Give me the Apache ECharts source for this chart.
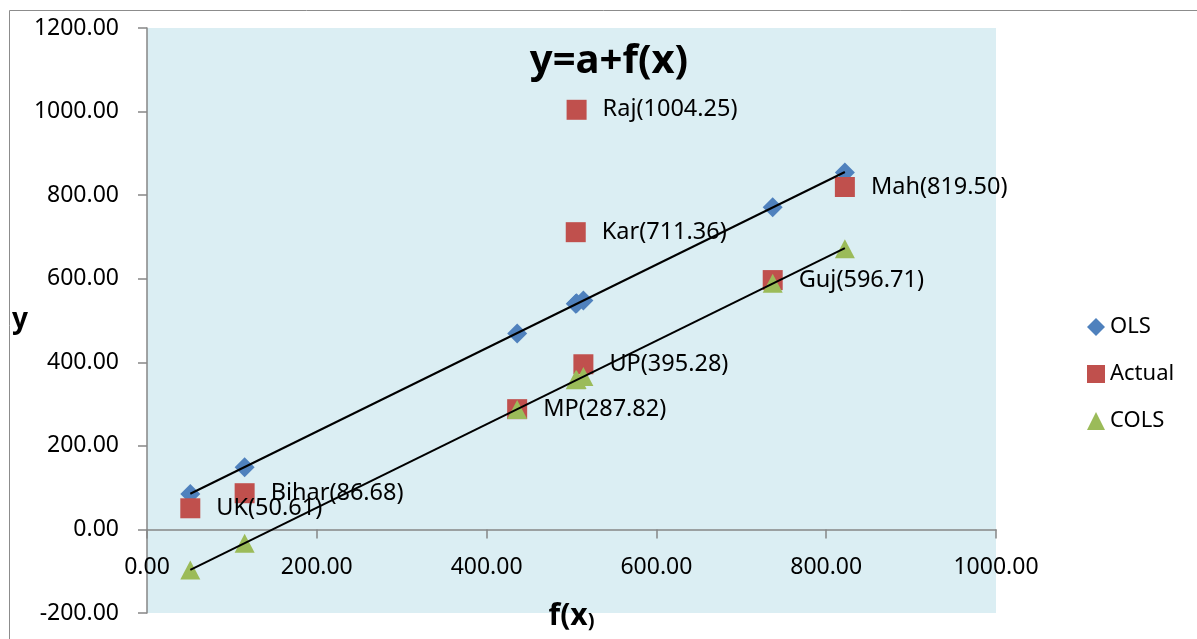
<!DOCTYPE html>
<html>
<head>
<meta charset="utf-8">
<script src="https://cdn.jsdelivr.net/npm/echarts@6/dist/echarts.min.js"></script>
<style>html,body{margin:0;padding:0;background:#fff;}#c{width:1197px;height:639px;}</style>
</head>
<body>
<div id="c"></div>
<script>
const states = ['UK', 'Bihar', 'MP', 'Kar', 'Raj', 'UP', 'Guj', 'Mah'];
const fx = [51, 115, 436, 505, 506, 514, 737, 822];
const olsY = [85, 149, 469, 540, 541, 548, 771, 854];
const actualY = [50.61, 86.68, 287.82, 711.36, 1004.25, 395.28, 596.71, 819.50];
const colsY = [-97, -33, 287, 358, 359, 366, 589, 672];
const xTicks = [0, 200, 400, 600, 800, 1000];
const yTicks = [-200, 0, 200, 400, 600, 800, 1000, 1200];

function fitLine(xs, ys) {
  const n = xs.length;
  let sx = 0, sy = 0, sxx = 0, sxy = 0;
  for (let i = 0; i < n; i++) { sx += xs[i]; sy += ys[i]; sxx += xs[i]*xs[i]; sxy += xs[i]*ys[i]; }
  const b = (n*sxy - sx*sy) / (n*sxx - sx*sx);
  const a = (sy - b*sx) / n;
  const x0 = Math.min(...xs), x1 = Math.max(...xs);
  return [[x0, a + b*x0], [x1, a + b*x1]];
}

const FONT = 'Noto Sans';
const chart = echarts.init(document.getElementById('c'));
const pts = (ys) => fx.map((x, i) => ({ name: states[i], value: [x, ys[i]] }));

chart.setOption({
  animation: false,
  textStyle: { fontFamily: FONT },
  graphic: [{
    type: 'rect', shape: { x: 9.5, y: 10.5, width: 1200, height: 640 },
    style: { fill: 'none', stroke: '#8c8c8c', lineWidth: 1 }, z: -10
  }],
  title: {
    text: 'y=a+f(x)', left: 604, top: 37, textAlign: 'center',
    textStyle: { fontFamily: FONT, fontWeight: 'bold', fontSize: 40, color: '#000' }
  },
  legend: {
    orient: 'vertical', left: 1082, top: 310, itemWidth: 18, itemHeight: 18, itemGap: 23,
    textStyle: { fontFamily: FONT, fontSize: 22, color: '#000', lineHeight: 24 },
    data: [
      { name: 'OLS', icon: 'diamond', itemStyle: { opacity: 1 } },
      { name: 'Actual', icon: 'rect', itemStyle: { opacity: 1 } },
      { name: 'COLS', icon: 'triangle', itemStyle: { opacity: 1 } }
    ]
  },
  grid: { left: 147, top: 28, right: 201, bottom: 26, show: true, backgroundColor: '#dbeef3', borderWidth: 0, containLabel: false, outerBoundsMode: 'none' },
  xAxis: {
    type: 'value', min: 0, max: 1000, interval: 200,
    name: '{a|f(x}{b|)}', nameLocation: 'middle', nameGap: -12,
    nameTextStyle: { rich: {
      a: { fontFamily: FONT, fontWeight: 'bold', fontSize: 30, color: '#000' },
      b: { fontFamily: FONT, fontWeight: 'bold', fontSize: 20, color: '#000', verticalAlign: 'bottom' }
    } },
    axisLine: { onZero: true, lineStyle: { color: '#868686', width: 1.5 } },
    axisTick: { show: true, inside: false, length: 9, lineStyle: { color: '#868686', width: 1.5 } },
    axisLabel: { margin: -57, fontFamily: FONT, fontSize: 23, color: '#000', formatter: v => v.toFixed(2) },
    splitLine: { show: false }
  },
  yAxis: {
    type: 'value', min: -200, max: 1200, interval: 200,
    name: 'y', nameLocation: 'middle', nameGap: 118, nameRotate: 0,
    nameTextStyle: { fontFamily: FONT, fontWeight: 'bold', fontSize: 28, color: '#000' },
    axisLine: { show: true, onZero: false, lineStyle: { color: '#868686', width: 1.5 } },
    axisTick: { show: true, inside: false, length: 9, lineStyle: { color: '#868686', width: 1.5 } },
    axisLabel: { margin: 28, fontFamily: FONT, fontSize: 23, color: '#000', formatter: v => v.toFixed(2) },
    splitLine: { show: false }
  },
  series: [
    {
      name: 'OLS', type: 'scatter', symbol: 'diamond', symbolSize: 20,
      itemStyle: { color: '#4f81bd', opacity: 1 }, data: pts(olsY), z: 2
    },
    {
      name: 'Actual', type: 'scatter', symbol: 'rect', symbolSize: 20,
      itemStyle: { color: '#c0504d', opacity: 1 }, data: pts(actualY), z: 3,
      label: {
        show: true, position: 'right', distance: 16,
        fontFamily: FONT, fontSize: 23.5, color: '#000',
        formatter: p => p.name + '(' + p.value[1].toFixed(2) + ')'
      }
    },
    {
      name: 'COLS', type: 'scatter', symbol: 'triangle', symbolSize: [20, 19],
      itemStyle: { color: '#9bbb59', opacity: 1 }, data: pts(colsY), z: 4
    },
    {
      name: 'olsLine', type: 'line', data: fitLine(fx, olsY), symbol: 'none',
      lineStyle: { color: '#000', width: 2 }, z: 5, silent: true, legendHoverLink: false
    },
    {
      name: 'colsLine', type: 'line', data: fitLine(fx, colsY), symbol: 'none',
      lineStyle: { color: '#000', width: 2 }, z: 5, silent: true, legendHoverLink: false
    }
  ]
});
</script>
</body>
</html>
